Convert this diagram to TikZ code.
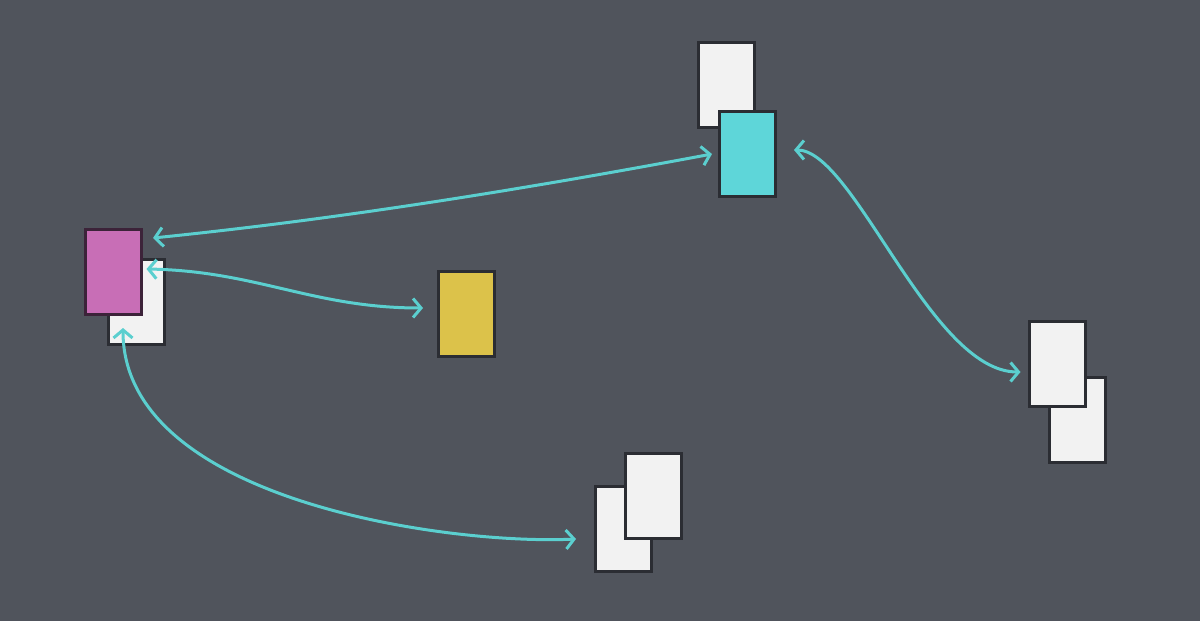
\documentclass[tikz,border=0pt]{standalone}
\usetikzlibrary{arrows.meta}
\definecolor{bg}{HTML}{50545C}
\definecolor{edge}{HTML}{2B2D33}
\definecolor{paper}{HTML}{F2F2F2}
\definecolor{pinkfill}{HTML}{C86EB6}
\definecolor{pinkedge}{HTML}{3C2339}
\definecolor{yellowfill}{HTML}{DCC24A}
\definecolor{cyanfill}{HTML}{5ED6D9}
\definecolor{link}{HTML}{5BCFCF}
\tikzset{
  card/.style={draw=edge, line width=3pt, fill=paper, rectangle, inner sep=0pt,
    minimum width=56pt, minimum height=85pt},
  link/.style={draw=link, line width=3pt,
    {Straight Barb[length=8pt,width=19pt,line width=3pt]}-{Straight Barb[length=8pt,width=19pt,line width=3pt]}}
}
\begin{document}
\begin{tikzpicture}[x=1pt,y=-1pt]
\fill[bg] (0,0) rectangle (1200,621);
\useasboundingbox (0,0) rectangle (1200,621);
% cards
\node[card] (pinkback) at (136,302) {};
\node[card, fill=pinkfill, draw=pinkedge] (pink) at (113.5,272) {};
\node[card, fill=yellowfill] (yellow) at (466.5,314) {};
\node[card] (topback) at (726.5,85) {};
\node[card, fill=cyanfill] (cyan) at (747.5,154) {};
\node[card] (botback) at (623.5,528.5) {};
\node[card] (botfront) at (653.5,496) {};
\node[card] (rightback) at (1077,420) {};
\node[card] (rightfront) at (1057,364) {};
% links
\path[link] ([shift={(10pt,-10pt)}]pink.north east)
  .. controls +(187,-19) and +(-187,35) .. ([shift={(-6pt,0pt)}]cyan.west);
\path[link] ([shift={(40pt,-11pt)}]pinkback.north west)
  .. controls +(110,2) and +(-110,0) .. ([shift={(-14pt,6pt)}]yellow.west);
\path[link] ([shift={(-13pt,18pt)}]pinkback.south)
  .. controls +(0,173) and +(-127,6) .. ([shift={(-18pt,-10.5pt)}]botback.west);
\path[link] ([shift={(17pt,4pt)}]cyan.east)
  .. controls +(60,0) and +(-90,0) .. ([shift={(-7pt,-8pt)}]rightfront.west);
\end{tikzpicture}
\end{document}
